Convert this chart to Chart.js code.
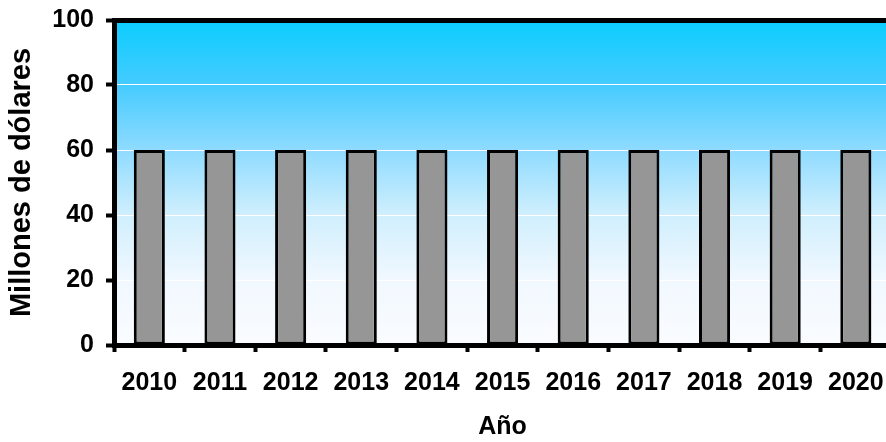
<!DOCTYPE html>
<html>
<head>
<meta charset="utf-8">
<script src="https://cdn.jsdelivr.net/npm/chart.js@4"></script>
<style>
  html, body { margin: 0; padding: 0; background: #fff; overflow: hidden; }
  #wrap { width: 886px; height: 442px; overflow: hidden; }
</style>
</head>
<body>
<div id="wrap"><canvas id="chart" width="900" height="442"></canvas></div>
<script>
const years = ['2010', '2011', '2012', '2013', '2014', '2015', '2016', '2017', '2018', '2019', '2020'];
const values = [60, 60, 60, 60, 60, 60, 60, 60, 60, 60, 60];
const yTicks = [0, 20, 40, 60, 80, 100];

const fontFam = '"Liberation Sans", Arial, sans-serif';

// gradient fill behind the plot area
const plotBg = {
  id: 'plotBg',
  beforeDraw(chart) {
    const { ctx, chartArea: a } = chart;
    const g = ctx.createLinearGradient(0, a.top, 0, a.bottom);
    g.addColorStop(0, '#0ccdff');
    g.addColorStop(0.2, '#45cbff');
    g.addColorStop(0.4, '#8fdbff');
    g.addColorStop(0.6, '#d0effd');
    g.addColorStop(0.8, '#f1f8ff');
    g.addColorStop(1, '#fafcff');
    ctx.save();
    ctx.fillStyle = g;
    ctx.fillRect(a.left, a.top, a.right - a.left, a.bottom - a.top);
    ctx.restore();
  }
};

new Chart(document.getElementById('chart'), {
  type: 'bar',
  data: {
    labels: years,
    datasets: [{
      data: values,
      backgroundColor: '#969696',
      borderColor: '#000',
      borderWidth: 3,
      borderSkipped: false,
      barPercentage: 0.44,
      categoryPercentage: 1
    }]
  },
  options: {
    responsive: false,
    animation: false,
    devicePixelRatio: 1,
    layout: { padding: { top: 20, right: 8, left: 0, bottom: 0 } },
    plugins: { legend: { display: false }, tooltip: { enabled: false } },
    scales: {
      x: {
        offset: true,
        afterFit(s) { s.height = 97; },
        grid: {
          offset: true,
          drawOnChartArea: false,
          tickLength: 7,
          tickColor: '#000',
          tickWidth: 4
        },
        border: { color: '#000', width: 5 },
        ticks: {
          color: '#000',
          padding: 16,
          font: { family: fontFam, size: 25, weight: 'bold' }
        },
        title: {
          display: true,
          text: 'Año',
          color: '#000',
          padding: { top: 14, bottom: 0 },
          font: { family: fontFam, size: 25, weight: 'bold' }
        }
      },
      y: {
        min: 0,
        max: 100,
        afterFit(s) { s.width = 114; },
        afterBuildTicks(s) { s.ticks = yTicks.map(v => ({ value: v })); },
        grid: {
          color: c => c.tick.value === 100 ? '#000' : (c.tick.value === 0 ? 'rgba(0,0,0,0)' : '#ffffff'),
          lineWidth: c => c.tick.value === 100 ? 5 : 1,
          tickLength: 8,
          tickColor: '#000',
          tickWidth: 4
        },
        border: { color: '#000', width: 5 },
        ticks: {
          color: '#000',
          padding: 12,
          font: { family: fontFam, size: 25, weight: 'bold', lineHeight: 0.5 }
        },
        title: {
          display: true,
          text: 'Millones de dólares',
          color: '#000',
          padding: { top: 5, bottom: 0 },
          font: { family: fontFam, size: 29, weight: 'bold' }
        }
      }
    }
  },
  plugins: [plotBg]
});
</script>
</body>
</html>
